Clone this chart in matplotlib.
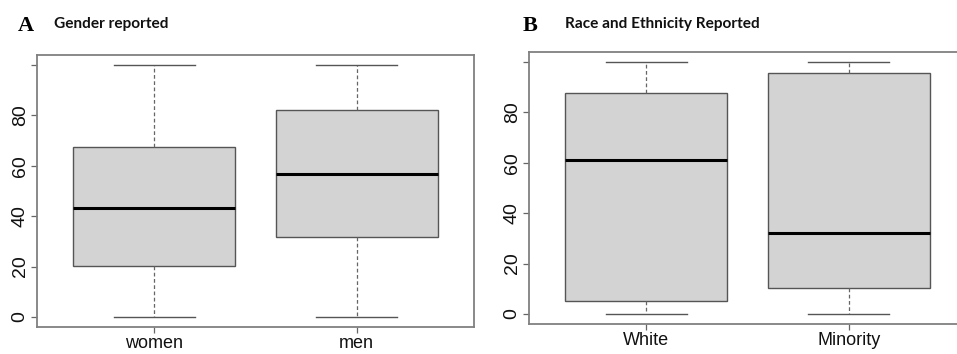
import matplotlib
matplotlib.use("Agg")
import matplotlib.pyplot as plt

# ---- data ----
gender_labels = ["women", "men"]
gender_min = [0, 0]
gender_q1 = [20.2, 31.7]
gender_med = [43.2, 56.6]
gender_q3 = [67.3, 82.0]
gender_max = [100, 100]

race_labels = ["White", "Minority"]
race_min = [0, 0]
race_q1 = [5.2, 10.3]
race_med = [61.3, 32.2]
race_q3 = [87.6, 95.5]
race_max = [100, 100]

yticks = [0, 20, 40, 60, 80, 100]
ytick_labels = ["0", "20", "40", "60", "80", ""]

W, H = 957, 354
fig = plt.figure(figsize=(W / 100, H / 100), dpi=100)

def panel(left_px, top_px, bottom_px, labels, lo, q1, med, q3, hi, letter, title, lx, tx):
    ax = fig.add_axes([left_px / W, (H - bottom_px) / H, 437 / W, (bottom_px - top_px) / H])
    stats = [dict(med=m, q1=a, q3=b, whislo=l, whishi=h, label=n)
             for n, l, a, m, b, h in zip(labels, lo, q1, med, q3, hi)]
    ax.bxp(stats, positions=[1, 2], widths=0.8, capwidths=0.4, showfliers=False,
           patch_artist=True,
           boxprops=dict(facecolor="#d3d3d3", edgecolor="#555555", linewidth=1.0),
           medianprops=dict(color="black", linewidth=2.2, solid_capstyle="butt"),
           whiskerprops=dict(color="#666666", linestyle=(0, (3, 2)), linewidth=0.9),
           capprops=dict(color="#555555", linewidth=1.0))
    ax.set_xlim(0.42, 2.58)
    ax.set_ylim(-4, 104)
    ax.set_yticks(yticks)
    ax.set_yticklabels(ytick_labels, rotation=90, va="center",
                       fontsize=14, family="Liberation Sans", color="#111111")
    ax.set_xticks([1, 2])
    ax.set_xticklabels(labels, fontsize=13, family="Liberation Sans", color="#111111")
    ax.tick_params(axis="both", direction="out", length=4.5, width=0.9, color="#666666")
    ax.tick_params(axis="y", pad=1.5)
    ax.tick_params(axis="x", pad=1.5)
    for s in ax.spines.values():
        s.set_color("#808080")
        s.set_linewidth(1.3)
    fig.text(lx / W, 1 - 31 / H, letter, fontsize=16, fontweight="bold",
             family="Liberation Serif", va="baseline", ha="left")
    fig.text(tx / W, 1 - 28 / H, title, fontsize=11.1, fontweight="bold",
             family="Lato", va="baseline", ha="left", color="#111111")
    return ax

panel(37, 55, 327, gender_labels, gender_min, gender_q1, gender_med, gender_q3, gender_max,
      "A", "Gender reported", 18, 54)
panel(529, 52, 324, race_labels, race_min, race_q1, race_med, race_q3, race_max,
      "B", "Race and Ethnicity Reported", 523, 565)

fig.savefig("out.png", dpi=100)
